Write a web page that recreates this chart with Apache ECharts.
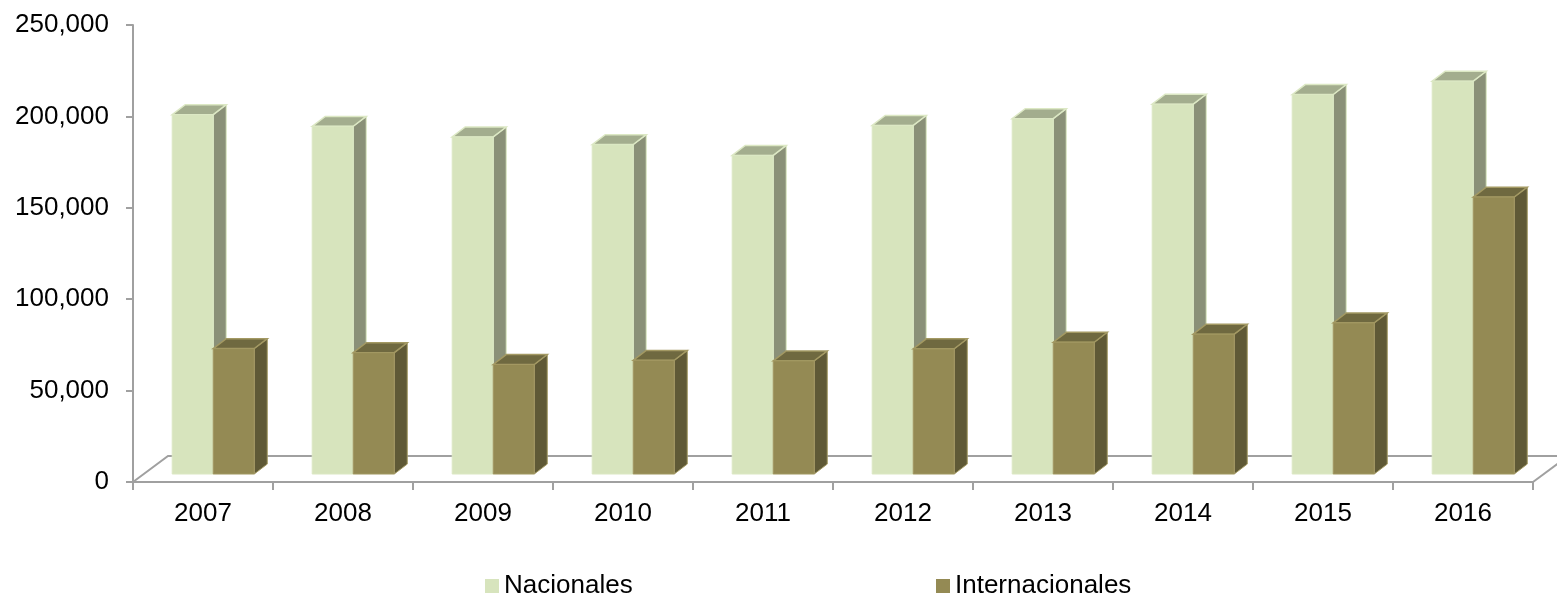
<!DOCTYPE html>
<html>
<head>
<meta charset="utf-8">
<script src="https://cdn.jsdelivr.net/npm/echarts@6/dist/echarts.min.js"></script>
<style>
html,body{margin:0;padding:0;background:#fff;}
#chart{width:1557px;height:594px;}
</style>
</head>
<body>
<div id="chart"></div>
<script>
var categories = ['2007','2008','2009','2010','2011','2012','2013','2014','2015','2016'];
var nacionales = [196600, 190200, 184400, 180200, 174300, 190700, 194400, 202300, 207600, 214900];
var internacionales = [68600, 66400, 59900, 62200, 61900, 68500, 72100, 76500, 82700, 151500];
var yTicks = [0, 50000, 100000, 150000, 200000, 250000];

var palettes = [
  {front:'#D7E4BD', top:'#A3AD8E', side:'#8A9078', edge:'#DCE8C4'},
  {front:'#948A54', top:'#6F6940', side:'#5F5936', edge:'#A39963'}
];

function fmt(v){ return String(v).replace(/\B(?=(\d{3})+(?!\d))/g, ','); }

function makeRender(si){
  return function(params, api){
    var idx = api.value(0), val = api.value(1);
    var c = api.coord([idx, val]);
    var b = api.coord([idx, 0]);
    var bw = api.size([1, 0])[0];
    var w = bw * 0.293, lift = bw * 0.057, dx = bw * 0.093, dy = bw * 0.071;
    var x0 = c[0] - bw * 0.22 + si * w;
    var x1 = x0 + w;
    var yT = c[1] - lift, yB = b[1] - lift;
    var p = palettes[si];
    return {
      type: 'group',
      children: [
        {type:'polygon', shape:{points:[[x1,yT],[x1+dx,yT-dy],[x1+dx,yB-dy],[x1,yB]]},
          style:{fill:p.side, stroke:p.edge, lineWidth:1}},
        {type:'polygon', shape:{points:[[x0,yT],[x0+dx,yT-dy],[x1+dx,yT-dy],[x1,yT]]},
          style:{fill:p.top, stroke:p.edge, lineWidth:1.5}},
        {type:'rect', shape:{x:x0, y:yT, width:w, height:yB-yT},
          style:{fill:p.front, stroke:p.edge, lineWidth:1}}
      ]
    };
  };
}

function floorRender(params, api){
  var bw = api.size([1, 0])[0];
  var first = api.coord([0, 0]);
  var last = api.coord([categories.length - 1, 0]);
  var L = first[0] - bw / 2, R = last[0] + bw / 2, y0 = first[1];
  var ddx = bw * 0.25, ddy = bw * 0.186;
  var st = {stroke:'#A0A0A0', lineWidth:2, fill:null};
  return {
    type:'group',
    children:[
      {type:'polyline', shape:{points:[[L,y0],[L+ddx,y0-ddy],[R+ddx,y0-ddy]]}, style:st},
      {type:'line', shape:{x1:R, y1:y0, x2:R+ddx, y2:y0-ddy}, style:st}
    ]
  };
}

var chart = echarts.init(document.getElementById('chart'));
var font = "'Liberation Sans', Arial, sans-serif";
var legendText = {fontFamily:font, fontSize:26, color:'#000'};
chart.setOption({
  animation: false,
  grid: {left:133, right:24, top:25, bottom:112},
  legend: [
    {data:['Nacionales'], left:480, top:568, icon:'rect', itemWidth:14, itemHeight:14, textStyle:legendText},
    {data:['Internacionales'], left:931, top:568, icon:'rect', itemWidth:14, itemHeight:14, textStyle:legendText}
  ],
  xAxis: {
    type:'category', data:categories, boundaryGap:true,
    axisLine:{lineStyle:{color:'#A0A0A0', width:2}},
    axisTick:{show:true, length:8, lineStyle:{color:'#A0A0A0', width:2}},
    axisLabel:{fontFamily:font, fontSize:26, color:'#000', margin:19},
    splitLine:{show:false}
  },
  yAxis: {
    type:'value', min:yTicks[0], max:yTicks[yTicks.length-1], interval:yTicks[1]-yTicks[0],
    axisLine:{show:true, lineStyle:{color:'#A0A0A0', width:2}},
    axisTick:{show:true, length:7, lineStyle:{color:'#A0A0A0', width:2}},
    axisLabel:{fontFamily:font, fontSize:26, color:'#000', margin:24, formatter:fmt},
    splitLine:{show:false}
  },
  series: [
    {name:'floor', type:'custom', renderItem:floorRender, data:[[0,0]], z:1, silent:true},
    {name:'Nacionales', type:'custom', renderItem:makeRender(0), itemStyle:{color:palettes[0].front},
      data:nacionales.map(function(v,i){return [i,v];}), z:2},
    {name:'Internacionales', type:'custom', renderItem:makeRender(1), itemStyle:{color:palettes[1].front},
      data:internacionales.map(function(v,i){return [i,v];}), z:3}
  ]
});
</script>
</body>
</html>
